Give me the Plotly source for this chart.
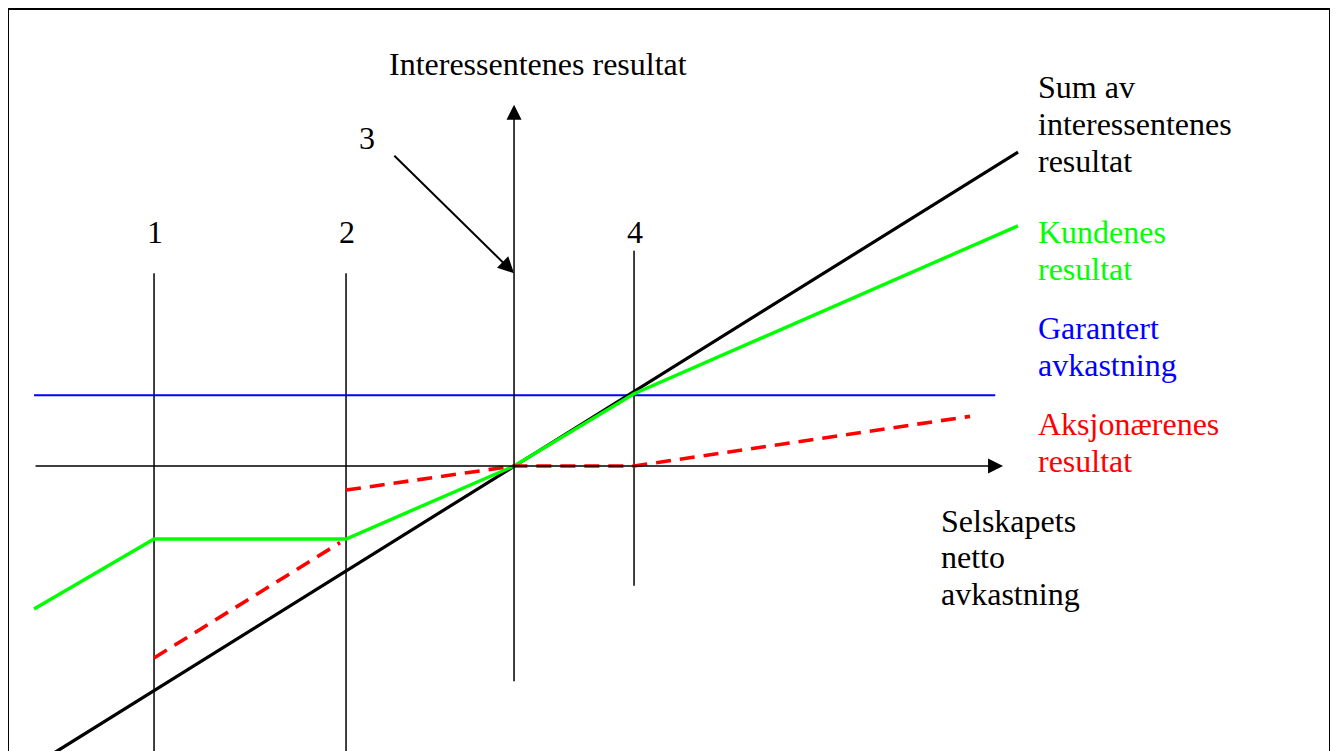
import plotly.graph_objects as go

# chart units: x = selskapets netto avkastning, y = interessentenes resultat
# (ranges account for the 8px body margin of the html page)
W, H = 1338, 751
X_RANGE = [-4.217, 6.933]
Y_RANGE = [-4.014, 6.274]

sum_x = [-3.9, 4.2]
sum_y = [-4.0, 4.3]

kunde_x = [-4.0, -3.0, -1.4, 0.0, 1.0, 4.2]
kunde_y = [-1.96, -1.0, -1.0, 0.0, 0.99, 3.29]

garanti_x = [-4.0, 4.01]
garanti_y = [0.97, 0.97]

aksj_low_x = [-3.0, -1.45]
aksj_low_y = [-2.63, -1.05]
aksj_high_x = [-1.4, 0.0, 1.0, 3.8]
aksj_high_y = [-0.33, 0.0, 0.0, 0.68]

# vertical marker lines 1, 2, 4
marker_labels = ["1", "2", "4"]
marker_x = [-3.0, -1.4, 1.0]
marker_top = [2.64, 2.64, 2.95]
marker_bottom = [-4.3, -4.3, -1.64]

# axes of the diagram
h_axis_x = [-4.0, 4.075]
v_axis_y = [-2.97, 4.95]

# point 3 (the origin) and its pointer
pointer_from = (-1.01, 4.27)
pointer_to = (0.0, 2.64)

labels_right = [
    (["Sum av", "interessentenes", "resultat"], "black", [5.19, 4.685, 4.178]),
    (["Kundenes", "resultat"], "#00ff00", [3.205, 2.699]),
    (["Garantert", "avkastning"], "#0000ff", [1.890, 1.384]),
    (["Aksjonærenes", "resultat"], "#ff0000", [0.575, 0.068]),
]
labels_x_axis = (["Selskapets", "netto", "avkastning"], [-0.753, -1.247, -1.753])

FONT = "Liberation Serif, Times New Roman, serif"
FS = 32

fig = go.Figure()


def line(x, y, color, width, dash="solid"):
    fig.add_trace(go.Scatter(x=x, y=y, mode="lines",
                             line=dict(color=color, width=width, dash=dash),
                             hoverinfo="skip"))


# thin vertical lines
for mx, top, bot in zip(marker_x, marker_top, marker_bottom):
    line([mx, mx], [bot, top], "black", 1.5)

line(garanti_x, garanti_y, "#0000ff", 2)
line(sum_x, sum_y, "black", 3.2)
line(kunde_x, kunde_y, "#00ff00", 3.4)
line(aksj_low_x, aksj_low_y, "#ff0000", 3.6, "15px,9px")
line(aksj_high_x, aksj_high_y, "#ff0000", 3.6, "15px,9px")

annotations = []
# axis arrows
annotations.append(dict(x=h_axis_x[1], y=0, ax=h_axis_x[0], ay=0, xref="x", yref="y",
                        axref="x", ayref="y", text="", showarrow=True,
                        arrowhead=2, arrowsize=2, arrowwidth=1.5, arrowcolor="black"))
annotations.append(dict(x=0, y=v_axis_y[1], ax=0, ay=v_axis_y[0], xref="x", yref="y",
                        axref="x", ayref="y", text="", showarrow=True,
                        arrowhead=2, arrowsize=2, arrowwidth=1.5, arrowcolor="black"))
annotations.append(dict(x=pointer_to[0], y=pointer_to[1], ax=pointer_from[0], ay=pointer_from[1],
                        xref="x", yref="y", axref="x", ayref="y", text="", showarrow=True,
                        arrowhead=2, arrowsize=1.6, arrowwidth=2, arrowcolor="black"))


def label(text, x, y, color="black", xanchor="left"):
    annotations.append(dict(x=x, y=y, xref="x", yref="y", text=text, showarrow=False,
                            xanchor=xanchor, yanchor="middle",
                            font=dict(family=FONT, size=FS, color=color)))


label("Interessentenes resultat", -1.058, 5.507)
label("3", -1.225, 4.5, xanchor="center")
for name, mx in zip(marker_labels, marker_x):
    label(name, mx + 0.01, 3.2, xanchor="center")
for lines, color, ys in labels_right:
    for t, yy in zip(lines, ys):
        label(t, 4.35, yy, color)
for t, yy in zip(*labels_x_axis):
    label(t, 3.542, yy)

fig.update_layout(
    width=W, height=H,
    margin=dict(l=0, r=0, t=0, b=0),
    paper_bgcolor="white", plot_bgcolor="white",
    showlegend=False,
    xaxis=dict(range=X_RANGE, visible=False, fixedrange=True),
    yaxis=dict(range=Y_RANGE, visible=False, fixedrange=True),
    annotations=annotations,
    shapes=[dict(type="rect", xref="paper", yref="paper",
                 x0=0, x1=1322 / W, y0=-0.05, y1=1 - 1 / H,
                 line=dict(color="black", width=2))],
)

fig.write_html("out.html")
